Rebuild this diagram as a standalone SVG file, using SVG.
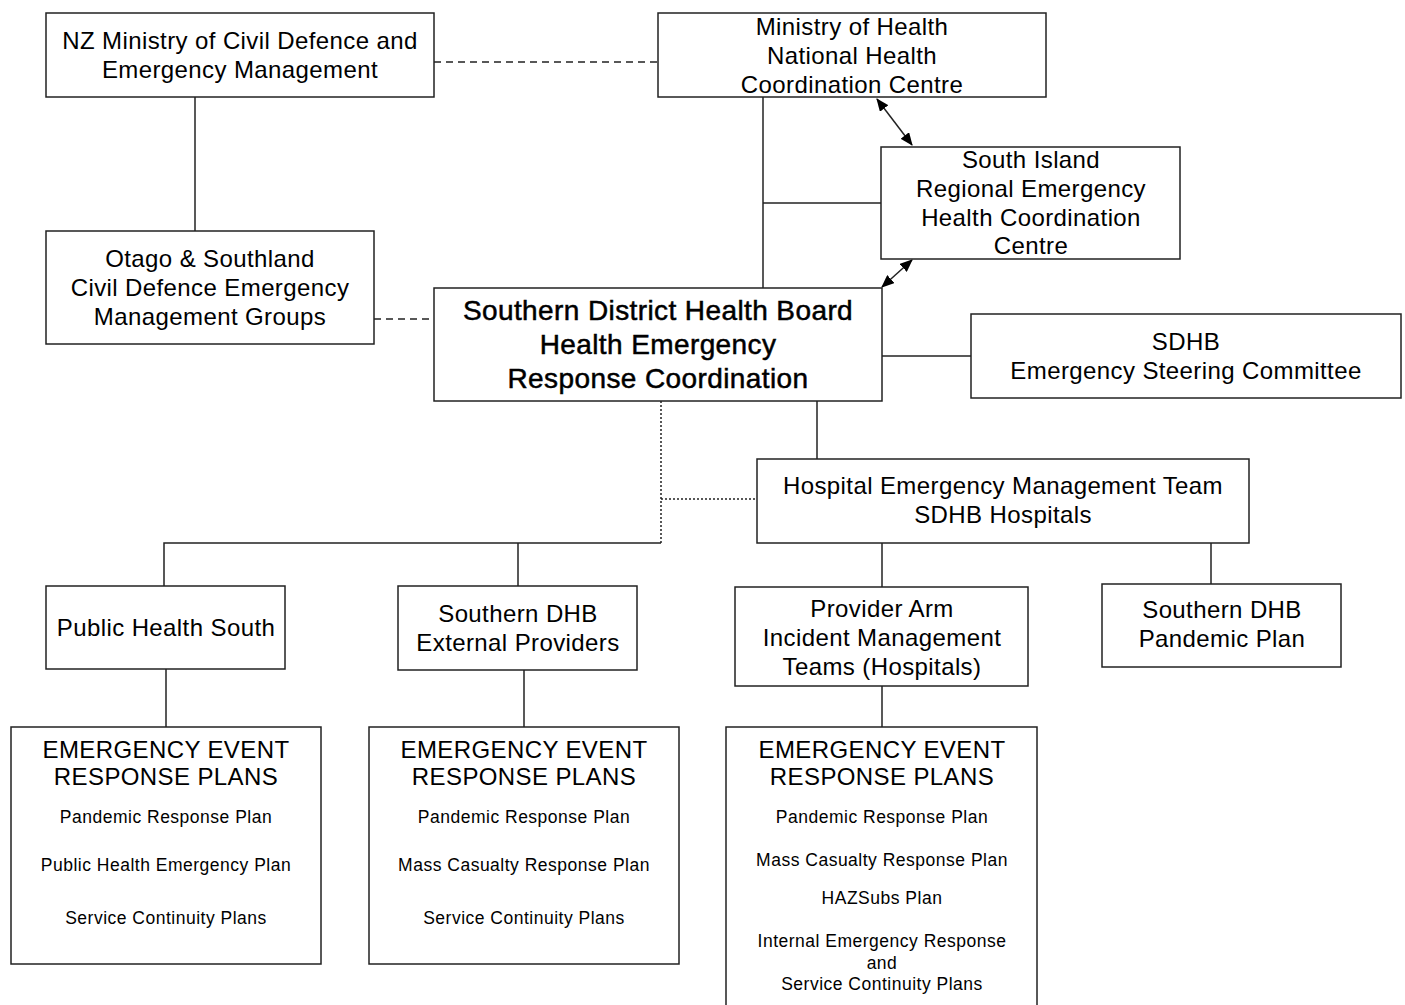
<svg xmlns="http://www.w3.org/2000/svg" width="1405" height="1005" viewBox="0 0 1405 1005">
<defs>
<style>
.box{fill:#fff;stroke:#222;stroke-width:1.5}
.ln{fill:none;stroke:#222;stroke-width:1.5}
.dash{stroke-dasharray:7,5}
.dot{stroke-dasharray:2,2}
text{font-family:"Liberation Sans",Arial,sans-serif;fill:#000;text-anchor:middle}
.t{font-size:24px;letter-spacing:0.4px}
.s{font-size:17.5px;letter-spacing:0.5px}
.b{font-size:28px;letter-spacing:0.4px;stroke:#000;stroke-width:0.5}
</style>
<marker id="ah" viewBox="0 0 12 10" refX="11" refY="5" markerWidth="13" markerHeight="11" markerUnits="userSpaceOnUse" orient="auto-start-reverse">
<path d="M0,0 L12,5 L0,10 z" fill="#000"/>
</marker>
</defs>
<g id="connectors">
<line class="ln dash" x1="434" y1="62" x2="658" y2="62"/>
<line class="ln" x1="195" y1="97" x2="195" y2="231"/>
<line class="ln dash" x1="374" y1="319" x2="434" y2="319"/>
<line class="ln" x1="763" y1="97" x2="763" y2="288"/>
<line class="ln" x1="763" y1="203" x2="881" y2="203"/>
<line class="ln" x1="877" y1="99" x2="912" y2="145" marker-start="url(#ah)" marker-end="url(#ah)"/>
<line class="ln" x1="912" y1="260" x2="882" y2="287" marker-start="url(#ah)" marker-end="url(#ah)"/>
<line class="ln" x1="882" y1="356" x2="971" y2="356"/>
<line class="ln" x1="817" y1="401" x2="817" y2="459"/>
<line class="ln dot" x1="661" y1="401" x2="661" y2="543"/>
<line class="ln dot" x1="661" y1="499" x2="757" y2="499"/>
<polyline class="ln" points="164,586 164,543 661,543"/>
<line class="ln" x1="518" y1="543" x2="518" y2="586"/>
<line class="ln" x1="882" y1="543" x2="882" y2="587"/>
<line class="ln" x1="1211" y1="543" x2="1211" y2="584"/>
<line class="ln" x1="166" y1="669" x2="166" y2="727"/>
<line class="ln" x1="524" y1="670" x2="524" y2="727"/>
<line class="ln" x1="882" y1="686" x2="882" y2="727"/>
</g>
<g id="nz-ministry">
<rect class="box" x="46" y="13" width="388" height="84"/>
<text class="t" x="240" y="49">NZ Ministry of Civil Defence and</text>
<text class="t" x="240" y="78">Emergency Management</text>
</g>
<g id="moh">
<rect class="box" x="658" y="13" width="388" height="84"/>
<text class="t" x="852" y="35">Ministry of Health</text>
<text class="t" x="852" y="64">National Health</text>
<text class="t" x="852" y="93">Coordination Centre</text>
</g>
<g id="south-island">
<rect class="box" x="881" y="147" width="299" height="112"/>
<text class="t" x="1031" y="168">South Island</text>
<text class="t" x="1031" y="197">Regional Emergency</text>
<text class="t" x="1031" y="226">Health Coordination</text>
<text class="t" x="1031" y="254">Centre</text>
</g>
<g id="otago">
<rect class="box" x="46" y="231" width="328" height="113"/>
<text class="t" x="210" y="267">Otago &amp; Southland</text>
<text class="t" x="210" y="296">Civil Defence Emergency</text>
<text class="t" x="210" y="325">Management Groups</text>
</g>
<g id="sdhb-herc">
<rect class="box" x="434" y="288" width="448" height="113"/>
<text class="b" x="658" y="320">Southern District Health Board</text>
<text class="b" x="658" y="354">Health Emergency</text>
<text class="b" x="658" y="388">Response Coordination</text>
</g>
<g id="steering">
<rect class="box" x="971" y="314" width="430" height="84"/>
<text class="t" x="1186" y="350">SDHB</text>
<text class="t" x="1186" y="379">Emergency Steering Committee</text>
</g>
<g id="hemt">
<rect class="box" x="757" y="459" width="492" height="84"/>
<text class="t" x="1003" y="494">Hospital Emergency Management Team</text>
<text class="t" x="1003" y="523">SDHB Hospitals</text>
</g>
<g id="public-health">
<rect class="box" x="46" y="586" width="239" height="83"/>
<text class="t" x="166" y="636">Public Health South</text>
</g>
<g id="external">
<rect class="box" x="398" y="586" width="239" height="84"/>
<text class="t" x="518" y="622">Southern DHB</text>
<text class="t" x="518" y="651">External Providers</text>
</g>
<g id="provider-arm">
<rect class="box" x="735" y="587" width="293" height="99"/>
<text class="t" x="882" y="617">Provider Arm</text>
<text class="t" x="882" y="646">Incident Management</text>
<text class="t" x="882" y="675">Teams (Hospitals)</text>
</g>
<g id="pandemic-plan">
<rect class="box" x="1102" y="584" width="239" height="83"/>
<text class="t" x="1222" y="618">Southern DHB</text>
<text class="t" x="1222" y="647">Pandemic Plan</text>
</g>
<g id="eer1">
<rect class="box" x="11" y="727" width="310" height="237"/>
<text class="t" x="166" y="758">EMERGENCY EVENT</text>
<text class="t" x="166" y="785">RESPONSE PLANS</text>
<text class="s" x="166" y="823">Pandemic Response Plan</text>
<text class="s" x="166" y="871">Public Health Emergency Plan</text>
<text class="s" x="166" y="924">Service Continuity Plans</text>
</g>
<g id="eer2">
<rect class="box" x="369" y="727" width="310" height="237"/>
<text class="t" x="524" y="758">EMERGENCY EVENT</text>
<text class="t" x="524" y="785">RESPONSE PLANS</text>
<text class="s" x="524" y="823">Pandemic Response Plan</text>
<text class="s" x="524" y="871">Mass Casualty Response Plan</text>
<text class="s" x="524" y="924">Service Continuity Plans</text>
</g>
<g id="eer3">
<rect class="box" x="726" y="727" width="311" height="290"/>
<text class="t" x="882" y="758">EMERGENCY EVENT</text>
<text class="t" x="882" y="785">RESPONSE PLANS</text>
<text class="s" x="882" y="823">Pandemic Response Plan</text>
<text class="s" x="882" y="866">Mass Casualty Response Plan</text>
<text class="s" x="882" y="904">HAZSubs Plan</text>
<text class="s" x="882" y="947">Internal Emergency Response</text>
<text class="s" x="882" y="969">and</text>
<text class="s" x="882" y="990">Service Continuity Plans</text>
</g>
</svg>
